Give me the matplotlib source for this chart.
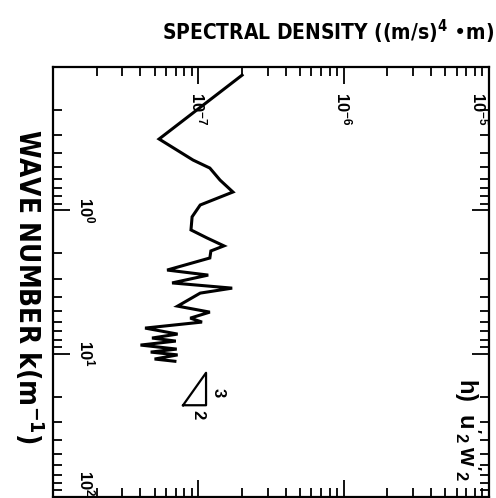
import matplotlib
matplotlib.use("Agg")
import matplotlib.pyplot as plt
from matplotlib import font_manager as fm
from matplotlib.font_manager import FontProperties

# ---- data -------------------------------------------------------------
# wave number k (m^-1) and spectral density S ((m/s)^4 m) of u'2 w'2
wavenumber = [0.114, 0.318, 0.446, 0.507, 0.615, 0.745, 0.918, 1.11, 1.37,
              1.56, 1.77, 1.92, 2.15, 2.61, 2.83, 3.21, 3.49, 3.78, 4.23,
              4.66, 5.13, 5.65, 6.02, 6.63, 7.30, 7.78, 8.17, 8.71, 9.29,
              9.75, 10.2, 10.9, 11.3]
density = [2.0e-7, 5.37e-8, 9.2e-8, 1.2e-7, 1.41e-7, 1.73e-7, 1.03e-7,
           9.06e-8, 8.9e-8, 1.15e-7, 1.50e-7, 1.22e-7, 1.2e-7, 6.1e-8,
           1.17e-7, 6.6e-8, 1.71e-7, 1.03e-7, 8.5e-8, 7.2e-8, 1.2e-7,
           8.8e-8, 1.06e-7, 4.3e-8, 7.2e-8, 4.8e-8, 7.0e-8, 4.0e-8, 7.1e-8,
           4.7e-8, 7.2e-8, 5.0e-8, 6.9e-8]

# slope triangle (density, wavenumber) corners
tri_density = [7.85e-8, 1.13e-7, 1.13e-7, 7.85e-8]
tri_wavenumber = [22.9, 13.6, 22.9, 22.9]

density_ticks = [1e-7, 1e-6, 1e-5]
density_ticklabels = [r"$10^{-7}$", r"$10^{-6}$", r"$10^{-5}$"]
wavenumber_ticks = [1, 10, 100]
wavenumber_ticklabels = [r"$10^{0}$", r"$10^{1}$", r"$10^{2}$"]

# ---- fonts ------------------------------------------------------------
plt.rcParams["font.family"] = ["Liberation Sans", "DejaVu Sans"]
plt.rcParams["font.weight"] = "bold"
plt.rcParams["mathtext.default"] = "regular"


def narrow_bold_file():
    preferred = None
    fallback = None
    for f in fm.fontManager.ttflist:
        w = f.weight
        bold = (w == "bold") or (isinstance(w, int) and w >= 700)
        if not bold or f.style != "normal":
            continue
        if f.name == "Liberation Sans Narrow":
            preferred = f.fname
        elif f.stretch in ("condensed", "semi-condensed") and fallback is None:
            fallback = f.fname
    return preferred or fallback


nb = narrow_bold_file()


def heading_font(size):
    if nb:
        fp = FontProperties(fname=nb)
    else:
        fp = FontProperties(family="Liberation Sans", weight="bold")
    fp.set_size(size)
    return fp


# ---- figure -----------------------------------------------------------
fig = plt.figure(figsize=(4.96, 4.98), dpi=100)
ax = fig.add_axes([53 / 496, 1 - 497 / 498, 436 / 496, 430 / 498])

ax.plot(density, wavenumber, color="black", lw=2.2, solid_joinstyle="miter")
ax.plot(tri_density, tri_wavenumber, color="black", lw=1.6)
ax.text(1.37e-7, 18.8, "3", rotation=-90, ha="center", va="center",
        fontsize=12, fontweight="bold")
ax.text(1.0e-7, 26.8, "2", rotation=-90, ha="center", va="center",
        fontsize=12, fontweight="bold")

ax.set_xscale("log")
ax.set_yscale("log")
ax.set_xlim(1e-8, 1e-5)
ax.set_ylim(100, 0.1)

for s in ax.spines.values():
    s.set_linewidth(1.6)

ax.tick_params(which="both", direction="in", top=True, bottom=True,
               left=True, right=True, width=1.3, color="black")
ax.tick_params(which="major", length=12)
ax.tick_params(which="minor", length=6.5)
ax.tick_params(axis="x", labeltop=True, labelbottom=False, pad=-18)
ax.tick_params(axis="y", labelleft=True, pad=-17)

ax.set_xticks(density_ticks, density_ticklabels, rotation=-90, va="top",
              fontsize=12, fontweight="bold")
ax.set_yticks(wavenumber_ticks, wavenumber_ticklabels, rotation=-90,
              ha="left", va="center", fontsize=12, fontweight="bold")
ax.get_xticklabels()[-1].set_ha("right")
ax.get_yticklabels()[-1].set_va("bottom")

ax.text(0.95, 0.158, "h)  $u'_2\\,w'_2$", transform=ax.transAxes,
        rotation=-90, ha="center", va="center", fontsize=17,
        fontweight="bold")

fig.text(328 / 496, 1 - 32 / 498, "SPECTRAL DENSITY ((m/s)$^{4}$ \u2022m)",
         ha="center", va="center", fontproperties=heading_font(15))
fig.text(28 / 496, 1 - 287 / 498, "WAVE NUMBER k(m$^{-1}$)",
         rotation=-90, ha="center", va="center",
         fontproperties=heading_font(20))

fig.savefig("out.png", dpi=100)
